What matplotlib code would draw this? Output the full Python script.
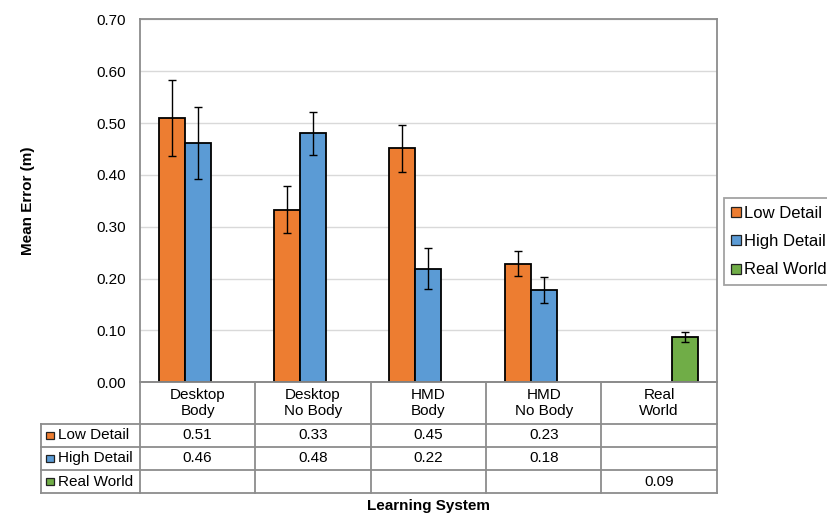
import matplotlib
matplotlib.use("Agg")
import matplotlib.pyplot as plt
from matplotlib.lines import Line2D
from matplotlib.patches import Rectangle
from matplotlib.transforms import blended_transform_factory
import numpy as np

plt.rcParams['font.family'] = ['Liberation Sans', 'DejaVu Sans']

categories = ["Desktop\nBody", "Desktop\nNo Body", "HMD\nBody", "HMD\nNo Body", "Real\nWorld"]
series_names = ["Low Detail", "High Detail", "Real World"]
low_detail = [0.509, 0.333, 0.451, 0.229, np.nan]
high_detail = [0.461, 0.480, 0.219, 0.178, np.nan]
real_world = [np.nan, np.nan, np.nan, np.nan, 0.087]
low_err = [0.073, 0.046, 0.045, 0.024, np.nan]
high_err = [0.069, 0.041, 0.040, 0.026, np.nan]
real_err = [np.nan, np.nan, np.nan, np.nan, 0.0095]
y_ticks = [0.0, 0.1, 0.2, 0.3, 0.4, 0.5, 0.6, 0.7]

colors = ["#ED7D31", "#5B9BD5", "#70AD47"]
border = "#8c8c8c"

W, H = 828, 514
fig = plt.figure(figsize=(W / 100, H / 100), dpi=100)
left, right, top, bottom = 140, 716.7, 19.3, 382.3
ax = fig.add_axes([left / W, 1 - bottom / H, (right - left) / W, (bottom - top) / H])

n = len(categories)
x = np.arange(n) + 0.5
bw = 0.225
all_vals = [low_detail, high_detail, real_world]
all_errs = [low_err, high_err, real_err]
offsets = [-bw, 0.0, bw]
for vals, errs, off, col, name in zip(all_vals, all_errs, offsets, colors, series_names):
    v = np.array(vals, dtype=float)
    e = np.array(errs, dtype=float)
    m = ~np.isnan(v)
    ax.bar(x[m] + off, v[m], width=bw, color=col, edgecolor="black", linewidth=1.3, zorder=3, label=name)
    ax.errorbar(x[m] + off, v[m], yerr=e[m], fmt="none", ecolor="black", elinewidth=1.0,
                capsize=3, capthick=1.0, zorder=4)

ax.set_xlim(0, n)
ax.set_ylim(0, 0.7)
ax.set_yticks(y_ticks)
ax.set_yticklabels([f"{t:.2f}" for t in y_ticks], fontsize=11)
ax.tick_params(axis="y", length=0, pad=10)
ax.set_xticks([])
ax.yaxis.grid(True, color="#d9d9d9", linewidth=1.0, zorder=0)
ax.set_axisbelow(True)
for s in ["left", "right", "top", "bottom"]:
    ax.spines[s].set_color(border)
    ax.spines[s].set_linewidth(1.3)
ax.set_ylabel("Mean Error (m)", fontsize=11, fontweight="bold", labelpad=44)

# data table below the plot
tr = blended_transform_factory(ax.transData, ax.transAxes)
ph = bottom - top
def yax(p):
    return (bottom - p) / ph
row_lines = [bottom, 424.0, 446.7, 470.0, 493.3]
x_label_left = (41 - left) / ((right - left) / n)

def line(xs, ys):
    ax.add_line(Line2D(xs, ys, transform=tr, color=border, linewidth=1.3, clip_on=False, zorder=5))

line([0, n], [yax(row_lines[0])] * 2)
for p in row_lines[1:]:
    line([x_label_left, n], [yax(p)] * 2)
for i in range(n + 1):
    line([i, i], [yax(row_lines[0]), yax(row_lines[-1])])
line([x_label_left, x_label_left], [yax(row_lines[1]), yax(row_lines[-1])])

hy = yax((row_lines[0] + row_lines[1]) / 2)
for i, c in enumerate(categories):
    ax.text(i + 0.5, hy, c, transform=tr, ha="center", va="center", fontsize=11,
            linespacing=1.15, clip_on=False)

sq_w = 7.5 / ((right - left) / n)
for r, (vals, col, name) in enumerate(zip(all_vals, colors, series_names)):
    cy = yax((row_lines[r + 1] + row_lines[r + 2]) / 2)
    for i, v in enumerate(vals):
        if not np.isnan(v):
            ax.text(i + 0.5, cy, f"{v:.2f}", transform=tr, ha="center", va="center",
                    fontsize=11, clip_on=False)
    sx = (46.5 - left) / ((right - left) / n)
    ax.add_patch(Rectangle((sx, cy - 3.75 / ph), sq_w, 7.5 / ph, transform=tr,
                           facecolor=col, edgecolor="#222222", linewidth=0.9, clip_on=False, zorder=6))
    ax.text((58 - left) / ((right - left) / n), cy, name, transform=tr, ha="left", va="center",
            fontsize=11, clip_on=False)

fig.text((left + right) / 2 / W, 1 - 506 / H, "Learning System", ha="center", va="center",
         fontsize=11, fontweight="bold")

handles = [Line2D([], [], marker="s", linestyle="none", markersize=7, markerfacecolor=c,
                  markeredgecolor="#222222", markeredgewidth=0.9) for c in colors]
leg = fig.legend(handles, series_names, loc="upper left", bbox_to_anchor=(724.3 / W, 1 - 198.3 / H),
                 fontsize=12, frameon=True, fancybox=False, edgecolor=border, handlelength=0.5,
                 handletextpad=0.25, labelspacing=0.8, borderpad=0.45, borderaxespad=0)
leg.get_frame().set_linewidth(1.3)

fig.savefig("out.png", dpi=100)
